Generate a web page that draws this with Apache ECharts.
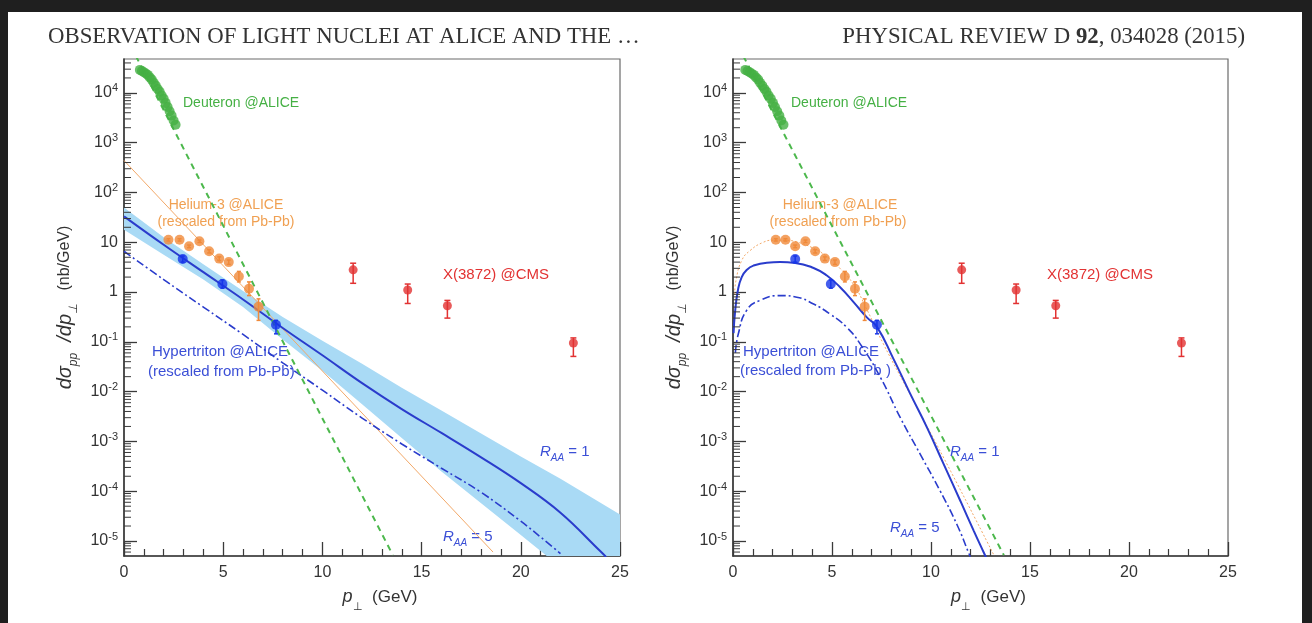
<!DOCTYPE html>
<html><head><meta charset="utf-8">
<script src="https://cdn.jsdelivr.net/npm/echarts@6/dist/echarts.min.js"></script>
<style>
html,body{margin:0;padding:0;background:#1f1f1f;width:1312px;height:623px;overflow:hidden;}
#page{position:absolute;left:8px;top:12px;width:1294px;height:611px;background:#fff;}
#chart{position:absolute;left:0;top:0;width:1312px;height:623px;}
</style></head><body>
<div id="page"></div><div id="chart"></div>
<script>
// ---------- data ----------
const xTicks = [0, 5, 10, 15, 20, 25];
const deuteronX_L = [0.8,0.9,1.0,1.1,1.2,1.3,1.4,1.5,1.6,1.7,1.8,1.9,2.0,2.1,2.2,2.3,2.4,2.5,2.6];
const deuteronX_R = [0.62,0.73,0.84,0.94,1.05,1.16,1.27,1.37,1.48,1.59,1.69,1.80,1.91,2.02,2.12,2.23,2.34,2.44,2.55];
const deuteronY = [2.9e4,2.75e4,2.6e4,2.45e4,2.3e4,2.05e4,1.85e4,1.6e4,1.4e4,1.2e4,1.05e4,8.9e3,7.6e3,6.3e3,5.2e3,4.3e3,3.5e3,2.8e3,2.3e3];

const heliumX_L = [2.24,2.8,3.28,3.8,4.29,4.8,5.28,5.79,6.3,6.78];
const heliumX_R = [2.16,2.65,3.14,3.66,4.15,4.64,5.15,5.65,6.16,6.65];
const heliumY  = [11.2,11.2,8.3,10.5,6.6,4.7,4.0,2.05,1.17,0.51];
const heliumLo = [10.6,10.6,7.8,9.9,6.1,4.3,3.6,1.6,0.85,0.27];
const heliumHi = [11.8,11.8,8.8,11.1,7.1,5.1,4.4,2.6,1.6,0.73];

const hyperX_L = [2.96,4.96,7.66];
const hyperX_R = [3.14,4.94,7.27];
const hyperY  = [4.6,1.45,0.22];
const hyperLo = [4.0,1.2,0.145];
const hyperHi = [5.3,1.75,0.27];

const x3872X  = [11.55,14.3,16.3,22.65];
const x3872Y  = [2.8,1.1,0.53,0.095];
const x3872Lo = [1.5,0.59,0.30,0.051];
const x3872Hi = [3.8,1.45,0.68,0.12];

// left panel curves
const deutFitX_L = [0.6, 13.55];
const deutFitY_L = [5.5e4, 5.2e-6];
const heFitX_L = [0, 18.6];
const heFitY_L = [440, 6e-6];
const fitX_L = [0,2,4,6,8,10,12,14,16,18,20,22,24,24.3];
const fitY_L = [33.1,8.9,2.51,0.71,0.19,0.0537,0.0148,4.47e-3,1.48e-3,4.79e-4,1.45e-4,3.7e-5,6.3e-6,4.8e-6];
const fit5X_L = [0,2,4,6,8,10,12,14,16,18,20,21,22];
const fit5Y_L = [6.6,1.78,0.5,0.141,0.038,0.0107,2.95e-3,8.9e-4,2.9e-4,9.5e-5,2.5e-5,1.2e-5,5.6e-6];
const bandX_L  = [0,2,4,6,8,10,12,14,16,18,20,22,25];
const bandUp_L = [50,12.6,3.63,1.05,0.316,0.105,0.0363,0.012,4.17e-3,1.45e-3,5.0e-4,1.78e-4,3.4e-5];
const bandLo_L = [17.8,5.6,1.78,0.5,0.112,0.0263,5.6e-3,1.17e-3,2.5e-4,5.75e-5,1.32e-5,3.0e-6,3.2e-7];

// right panel curves
const deutFitX_R = [0.52, 13.68];
const deutFitY_R = [5.5e4, 5.2e-6];
const fitX_R = [0.03,0.1,0.25,0.44,0.7,1.03,1.71,2.38,3.14,4.07,4.74,5.41,6.09,6.76,7.27,8.11,8.96,9.8,10.64,11.49,12.16,12.67,12.8];
const fitY_R = [0.15,0.38,1.1,2.0,2.8,3.4,3.9,4.0,3.85,3.05,2.15,1.25,0.63,0.31,0.2,0.045,8.9e-3,1.9e-3,3.5e-4,6.3e-5,1.6e-5,5.8e-6,4.5e-6];
const fit5X_R = [0.12,0.27,0.69,1.36,2.38,3.22,4.07,4.91,5.75,6.43,7.44,8.45,9.46,10.47,11.32,11.9,12.0];
const fit5Y_R = [0.06,0.145,0.43,0.68,0.85,0.79,0.575,0.36,0.195,0.09,0.0195,3.0e-3,5.5e-4,1.0e-4,2.1e-5,5.8e-6,4.6e-6];
const heFitX_R = [0.08,0.15,0.44,0.86,1.53,2.04,2.6,3.2,4.0,4.7,5.4,6.1,6.7,7.6,9.0,11.0,13.2];
const heFitY_R = [0.9,1.7,4.3,6.8,10,11,11,10.2,7.8,5.3,3.0,1.4,0.5,0.09,8e-3,2.5e-4,5e-6];

// y-axis minor tick positions (2..9 x 10^n inside the axis range)
const yMin = 5e-6, yMax = 4.8e4;
const yMinorTicks = [];
for (let e = -6; e <= 4; e++) for (let m = 2; m <= 9; m++) {
  const v = m * Math.pow(10, e);
  if (v > yMin && v < yMax) yMinorTicks.push(v);
}

// ---------- styles ----------
const C = {
  green:'#45b044', greenLine:'#4cb84c', orange:'#f08a3a', orangeLine:'#f2a868', orangeText:'#f0a052',
  blue:'#1736e8', blueLine:'#2a3ccc', blueText:'#3b4fd6', band:'#a9daf5', red:'#e23232'
};
const SANS = '"Liberation Sans", Arial, Helvetica, sans-serif';
const AXC = '#3a3a3a';

function pts(xs, ys){ return xs.map((x,i)=>[x, ys[i]]); }
function lineS(gi, xs, ys, color, width, type, smooth, z){
  return {type:'line', xAxisIndex:gi, yAxisIndex:gi, data:pts(xs,ys), symbol:'none', showSymbol:false,
    smooth: smooth||false, clip:true, silent:true, animation:false, z: z||3,
    lineStyle:{color:color, width:width, type:type||'solid'}};
}
function scatS(gi, xs, ys, color, size, z){
  return {type:'scatter', xAxisIndex:gi, yAxisIndex:gi, data:pts(xs,ys), symbol:'circle', symbolSize:size,
    itemStyle:{color:color}, silent:true, animation:false, z: z||5};
}
function errS(gi, xs, lo, hi, color, cap, z){
  return {type:'custom', xAxisIndex:gi, yAxisIndex:gi, data: xs.map((x,i)=>[x, lo[i], hi[i]]),
    encode:{x:0, y:[1,2]}, silent:true, animation:false, z: z||4,
    renderItem:function(p, api){
      const a = api.coord([api.value(0), api.value(1)]);
      const b = api.coord([api.value(0), api.value(2)]);
      const st = {stroke:color, lineWidth:1.5};
      return {type:'group', children:[
        {type:'line', shape:{x1:a[0], y1:a[1], x2:b[0], y2:b[1]}, style:st},
        {type:'line', shape:{x1:a[0]-cap, y1:a[1], x2:a[0]+cap, y2:a[1]}, style:st},
        {type:'line', shape:{x1:b[0]-cap, y1:b[1], x2:b[0]+cap, y2:b[1]}, style:st}
      ]};
    }};
}
function bandS(gi, xs, up, lo, color){
  return {type:'custom', xAxisIndex:gi, yAxisIndex:gi, data:[[xs[0], up[0]]], clip:true, silent:true, animation:false, z:1,
    renderItem:function(p, api){
      const top = xs.map((x,i)=>api.coord([x, up[i]]));
      const bot = xs.map((x,i)=>api.coord([x, lo[i]])).reverse();
      const cs = p.coordSys;
      return {type:'group',
        clipPath:{type:'rect', shape:{x:cs.x, y:cs.y, width:cs.width, height:cs.height}},
        children:[{type:'polygon', shape:{points: top.concat(bot)}, style:{fill:color}}]};
    }};
}
function minorTickS(gi){
  return {type:'custom', xAxisIndex:gi, yAxisIndex:gi, data: yMinorTicks.map(v=>[0, v]),
    encode:{x:0, y:1}, silent:true, animation:false, clip:false, z:6,
    renderItem:function(p, api){
      const a = api.coord([0, api.value(1)]);
      return {type:'line', shape:{x1:a[0], y1:a[1], x2:a[0]+7, y2:a[1]}, style:{stroke:AXC, lineWidth:1}};
    }};
}

function supLabel(v){
  const e = Math.round(Math.log10(v));
  if (e === 0) return '{b|1}';
  if (e === 1) return '{b|10}';
  return '{b|10}{s|' + e + '}';
}

function xAxisDef(gi){
  return {type:'value', gridIndex:gi, min:xTicks[0], max:xTicks[xTicks.length-1], interval:5,
    axisLine:{show:true, lineStyle:{color:AXC, width:1.6}},
    axisTick:{show:true, inside:true, length:14, lineStyle:{color:AXC, width:1.3}},
    minorTick:{show:true, splitNumber:5, length:7, lineStyle:{color:AXC, width:1.2}},
    splitLine:{show:false},
    axisLabel:{color:'#333', fontSize:16, fontFamily:SANS, margin:9},
    name:'{i|p}{s|⊥}{n|  (GeV)}', nameLocation:'middle', nameGap:32,
    nameTextStyle:{padding:[0,0,0,16], rich:{
      i:{fontSize:18, fontStyle:'italic', fontFamily:SANS, color:'#333'},
      s:{fontSize:11, fontFamily:SANS, color:'#333', verticalAlign:'bottom', padding:[0,0,-6,0]},
      n:{fontSize:17, fontFamily:SANS, color:'#333'}}}
  };
}
function yAxisDef(gi){
  return {type:'log', gridIndex:gi, logBase:10, min:yMin, max:yMax, splitNumber:10,
    axisLine:{show:true, lineStyle:{color:AXC, width:1.6}},
    axisTick:{show:true, inside:true, length:13, lineStyle:{color:AXC, width:1.3}},
    minorTick:{show:false},
    splitLine:{show:false},
    axisLabel:{showMinLabel:false, showMaxLabel:false, margin:6, formatter:supLabel,
      rich:{b:{fontSize:16, fontFamily:SANS, color:'#333', lineHeight:20},
            s:{fontSize:11, fontFamily:SANS, color:'#333', verticalAlign:'top', lineHeight:12}}},
    name:'{i|dσ}{s|pp}{i|  /dp}{s|⊥}{n|   (nb/GeV)}', nameLocation:'middle', nameGap:49, nameRotate:90,
    nameTextStyle:{rich:{
      i:{fontSize:20, fontStyle:'italic', fontFamily:SANS, color:'#333'},
      s:{fontSize:12, fontStyle:'italic', fontFamily:SANS, color:'#333', verticalAlign:'bottom', padding:[0,0,-5,0]},
      n:{fontSize:16, fontFamily:SANS, color:'#333'}}}
  };
}

function txt(x, y, text, color, size, align, rich){
  const st = {text:text, fill:color, font: size + 'px ' + SANS, align:align||'left', verticalAlign:'middle',
    textAlign:align||'left', textVerticalAlign:'middle'};
  if (rich) st.rich = rich;
  return {type:'text', x:x, y:y, silent:true, style:st};
}
function raa(x, y, n){
  const col = C.blueText;
  return txt(x, y, '{r|R}{s|AA}{n| = ' + n + '}', col, 15, 'left', {
    r:{fontSize:15, fontStyle:'italic', fontFamily:SANS, fill:col, color:col},
    s:{fontSize:10, fontStyle:'italic', fontFamily:SANS, fill:col, color:col, verticalAlign:'bottom', padding:[0,0,-4,0]},
    n:{fontSize:15, fontFamily:SANS, fill:col, color:col}});
}

const SERIF = '"Liberation Serif", "Times New Roman", serif';
const HF = 22.8;
const graphics = [
  {type:'text', x:48, y:37, silent:true, style:{text:'OBSERVATION OF LIGHT NUCLEI AT ALICE AND THE …', fill:'#333',
    font:HF + 'px ' + SERIF, align:'left', verticalAlign:'middle', textAlign:'left', textVerticalAlign:'middle'}},
  {type:'text', x:1245, y:37, silent:true, style:{text:'{n|PHYSICAL REVIEW D }{b|92}{n|, 034028 (2015)}', fill:'#333',
    font:HF + 'px ' + SERIF, align:'right', verticalAlign:'middle', textAlign:'right', textVerticalAlign:'middle',
    rich:{n:{fontSize:HF, fontFamily:SERIF, fill:'#333', color:'#333'},
          b:{fontSize:HF, fontFamily:SERIF, fontWeight:'bold', fill:'#333', color:'#333'}}}},
  // left panel annotations
  txt(183, 103, 'Deuteron @ALICE', C.green, 14),
  txt(226, 205, 'Helium-3 @ALICE', C.orangeText, 14, 'center'),
  txt(226, 222, '(rescaled from Pb-Pb)', C.orangeText, 14, 'center'),
  txt(443, 275, 'X(3872) @CMS', C.red, 15),
  txt(152, 352, 'Hypertriton @ALICE', C.blueText, 15),
  txt(148, 372, '(rescaled from Pb-Pb)', C.blueText, 15),
  raa(540, 452, 1),
  raa(443, 537, 5),
  // right panel annotations
  txt(791, 103, 'Deuteron @ALICE', C.green, 14),
  txt(840, 205, 'Helium-3 @ALICE', C.orangeText, 14, 'center'),
  txt(838, 222, '(rescaled from Pb-Pb)', C.orangeText, 14, 'center'),
  txt(1047, 275, 'X(3872) @CMS', C.red, 15),
  txt(743, 352, 'Hypertriton @ALICE', C.blueText, 15),
  txt(740, 371, '(rescaled from Pb-Pb )', C.blueText, 15),
  raa(950, 452, 1),
  raa(890, 528, 5)
];

const series = [
  // left panel (grid 0)
  bandS(0, bandX_L, bandUp_L, bandLo_L, C.band),
  lineS(0, heFitX_L, heFitY_L, C.orangeLine, 1, 'solid'),
  lineS(0, fit5X_L, fit5Y_L, C.blueLine, 1.6, [8,3,2,3], 0.4),
  lineS(0, fitX_L, fitY_L, C.blueLine, 2, 'solid', 0.4),
  lineS(0, deutFitX_L, deutFitY_L, C.greenLine, 2, [6,5]),
  scatS(0, deuteronX_L, deuteronY, C.green, 10),
  errS(0, heliumX_L, heliumLo, heliumHi, C.orange, 2),
  scatS(0, heliumX_L, heliumY, C.orange, 10),
  errS(0, hyperX_L, hyperLo, hyperHi, C.blue, 2),
  scatS(0, hyperX_L, hyperY, C.blue, 10),
  errS(0, x3872X, x3872Lo, x3872Hi, C.red, 3),
  scatS(0, x3872X, x3872Y, C.red, 9),
  minorTickS(0),
  // right panel (grid 1)
  lineS(1, heFitX_R, heFitY_R, C.orangeLine, 1, [2,2], true),
  lineS(1, fit5X_R, fit5Y_R, C.blueLine, 1.6, [8,3,2,3], true),
  lineS(1, fitX_R, fitY_R, C.blueLine, 2, 'solid', true),
  lineS(1, deutFitX_R, deutFitY_R, C.greenLine, 2, [6,5]),
  scatS(1, deuteronX_R, deuteronY, C.green, 10),
  errS(1, heliumX_R, heliumLo, heliumHi, C.orange, 2),
  scatS(1, heliumX_R, heliumY, C.orange, 10),
  errS(1, hyperX_R, hyperLo, hyperHi, C.blue, 2),
  scatS(1, hyperX_R, hyperY, C.blue, 10),
  errS(1, x3872X, x3872Lo, x3872Hi, C.red, 3),
  scatS(1, x3872X, x3872Y, C.red, 9),
  minorTickS(1)
];

const chart = echarts.init(document.getElementById('chart'), null, {renderer:'canvas'});
chart.setOption({
  backgroundColor:'transparent',
  animation:false,
  grid:[
    {left:124, top:59, width:496, height:497, show:true, borderColor:'#6a6a6a', borderWidth:1.2, backgroundColor:'transparent'},
    {left:733, top:59, width:495, height:497, show:true, borderColor:'#6a6a6a', borderWidth:1.2, backgroundColor:'transparent'}
  ],
  xAxis:[xAxisDef(0), xAxisDef(1)],
  yAxis:[yAxisDef(0), yAxisDef(1)],
  series: series,
  graphic: graphics
});
</script></body></html>
